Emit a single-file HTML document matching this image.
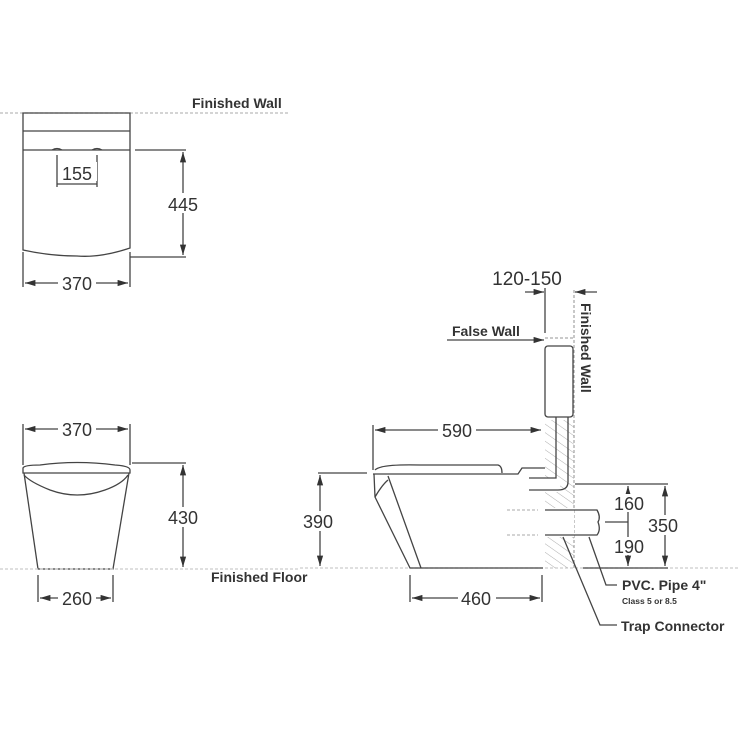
<!DOCTYPE html>
<html><head><meta charset="utf-8"><style>
html,body{margin:0;padding:0;background:#fff;}
svg{display:block;}
text{font-family:"Liberation Sans",Arial,sans-serif;fill:#333;}
.n{font-size:18px;}
.l{font-size:14px;font-weight:bold;}
</style></head><body>
<svg width="740" height="740" viewBox="0 0 740 740" xmlns="http://www.w3.org/2000/svg">
<defs>
<marker id="a" viewBox="0 0 10 6" refX="10" refY="3" markerWidth="8" markerHeight="5" orient="auto-start-reverse"><path d="M0,0 L10,3 L0,6 z" fill="#333"/></marker>
<pattern id="h" width="7" height="7" patternUnits="userSpaceOnUse" patternTransform="rotate(-55)"><line x1="0" y1="0" x2="0" y2="7" stroke="#999" stroke-width="0.8"/></pattern>
</defs>
<g stroke="#444" stroke-width="1.3" fill="none">
<line x1="0" y1="113" x2="290" y2="113" stroke="#bbb" stroke-dasharray="3,2"/>
<path d="M23,113 H130 V248 Q100,258 77,256 Q50,256 23,250 Z"/>
<line x1="23" y1="131" x2="130" y2="131"/>
<line x1="23" y1="150" x2="130" y2="150"/>
<path d="M52,150 Q57,147 62,150 M92,150 Q97,147 102,150"/>
<line x1="57" y1="155" x2="57" y2="187"/><line x1="97" y1="155" x2="97" y2="187"/>
<line x1="57" y1="184" x2="97" y2="184"/>
<line x1="135" y1="150" x2="186" y2="150"/><line x1="130" y1="257" x2="186" y2="257"/>
<line x1="183" y1="152" x2="183" y2="255" marker-start="url(#a)" marker-end="url(#a)"/>
<line x1="23" y1="252" x2="23" y2="287"/><line x1="130" y1="252" x2="130" y2="287"/>
<line x1="25" y1="283" x2="128" y2="283" marker-start="url(#a)" marker-end="url(#a)"/>
<line x1="23" y1="424" x2="23" y2="465"/><line x1="130" y1="424" x2="130" y2="465"/>
<line x1="25" y1="429" x2="128" y2="429" marker-start="url(#a)" marker-end="url(#a)"/>
<path d="M23,468 Q24,465 40,465 Q77,460 115,465 Q130,466 130,470 L130,473 L23,473 Z"/>
<path d="M24,475 Q30,482 50,490 Q77,500 105,490 Q122,484 128,475"/>
<path d="M24,473 L38,569 L113,569 L129,473"/>
<line x1="0" y1="569" x2="300" y2="569" stroke="#ccc" stroke-dasharray="3,2"/>
<line x1="132" y1="463" x2="186" y2="463"/>
<line x1="183" y1="465" x2="183" y2="567" marker-start="url(#a)" marker-end="url(#a)"/>
<line x1="38" y1="575" x2="38" y2="602"/><line x1="113" y1="575" x2="113" y2="602"/>
<line x1="40" y1="598" x2="111" y2="598" marker-start="url(#a)" marker-end="url(#a)"/>
<line x1="300" y1="568" x2="740" y2="568" stroke="#ccc" stroke-dasharray="3,2"/>
<line x1="574" y1="290" x2="574" y2="568" stroke="#aaa" stroke-dasharray="3,2"/>
<line x1="545" y1="288" x2="545" y2="333"/>
<line x1="525" y1="292" x2="544" y2="292" marker-end="url(#a)"/>
<line x1="597" y1="292" x2="575" y2="292" marker-end="url(#a)"/>
<line x1="447" y1="340" x2="544" y2="340" marker-end="url(#a)"/>
<line x1="545" y1="338" x2="574" y2="338" stroke="#aaa" stroke-dasharray="3,2"/>
<rect x="545" y="346" width="28" height="71" rx="3"/>
<rect x="545" y="420" width="29" height="148" fill="url(#h)" stroke="none"/>
<rect x="528" y="478" width="32" height="14" fill="#fff" stroke="none"/>
<rect x="545" y="508" width="29" height="29" fill="#fff" stroke="none"/>
<path d="M556,417 V478 H529"/>
<path d="M568,417 V482 Q568,490 558,490 H529"/>
<line x1="373" y1="425" x2="373" y2="470"/>
<line x1="375" y1="430" x2="541" y2="430" marker-start="url(#a)" marker-end="url(#a)"/>
<path d="M375,470 Q380,464 420,465 L498,465 Q502,466 502,473"/>
<path d="M373,474 H518 L522,468 H545"/>
<path d="M374,474 L375,497 L410,568 H543"/>
<path d="M388,476 L421,568"/>
<path d="M375,497 Q382,485 388,480"/>
<line x1="318" y1="473" x2="367" y2="473"/>
<line x1="320" y1="475" x2="320" y2="566" marker-start="url(#a)" marker-end="url(#a)"/>
<line x1="410" y1="575" x2="410" y2="602"/><line x1="542" y1="575" x2="542" y2="602"/>
<line x1="412" y1="598" x2="540" y2="598" marker-start="url(#a)" marker-end="url(#a)"/>
<path d="M545,510 H597 Q601,517 598,522 Q601,530 597,535 H545"/>
<path d="M507,510 H538 M507,535 H538" stroke="#bbb" stroke-dasharray="3,2"/>
<line x1="575" y1="484" x2="668" y2="484"/>
<line x1="583" y1="568" x2="668" y2="568"/>
<line x1="628" y1="486" x2="628" y2="566" marker-start="url(#a)" marker-end="url(#a)"/>
<line x1="605" y1="522" x2="628" y2="522"/>
<line x1="665" y1="486" x2="665" y2="566" marker-start="url(#a)" marker-end="url(#a)"/>
<path d="M589,537 L606,585 H617"/>
<path d="M563,537 L600,625 H617"/>
</g>
<g>
<text class="l" x="192" y="108">Finished Wall</text>
<rect x="59" y="162" width="38" height="19" fill="#fff"/>
<text class="n" x="77" y="180" text-anchor="middle">155</text>
<rect x="164" y="193" width="38" height="20" fill="#fff"/>
<text class="n" x="183" y="211" text-anchor="middle">445</text>
<rect x="58" y="274" width="38" height="18" fill="#fff"/>
<text class="n" x="77" y="290" text-anchor="middle">370</text>
<rect x="58" y="420" width="38" height="18" fill="#fff"/>
<text class="n" x="77" y="436" text-anchor="middle">370</text>
<rect x="164" y="507" width="38" height="20" fill="#fff"/>
<text class="n" x="183" y="524" text-anchor="middle">430</text>
<rect x="58" y="589" width="38" height="18" fill="#fff"/>
<text class="n" x="77" y="605" text-anchor="middle">260</text>
<text class="l" x="211" y="582">Finished Floor</text>
<text class="n" x="527" y="285" text-anchor="middle" style="font-size:19px">120-150</text>
<text class="l" transform="translate(581,303) rotate(90)">Finished Wall</text>
<text class="l" x="452" y="336">False Wall</text>
<rect x="438" y="421" width="38" height="18" fill="#fff"/>
<text class="n" x="457" y="437" text-anchor="middle">590</text>
<rect x="300" y="511" width="40" height="20" fill="#fff"/>
<text class="n" x="318" y="528" text-anchor="middle">390</text>
<rect x="458" y="589" width="38" height="18" fill="#fff"/>
<text class="n" x="476" y="605" text-anchor="middle">460</text>
<rect x="611" y="494" width="36" height="18" fill="#fff"/>
<text class="n" x="629" y="510" text-anchor="middle">160</text>
<rect x="611" y="537" width="36" height="18" fill="#fff"/>
<text class="n" x="629" y="553" text-anchor="middle">190</text>
<rect x="645" y="515" width="40" height="20" fill="#fff"/>
<text class="n" x="663" y="532" text-anchor="middle">350</text>
<text class="l" x="622" y="590">PVC. Pipe 4"</text>
<text x="622" y="604" style="font-size:8.5px;font-weight:bold">Class 5 or 8.5</text>
<text class="l" x="621" y="631">Trap Connector</text>
</g>
</svg>
</body></html>
